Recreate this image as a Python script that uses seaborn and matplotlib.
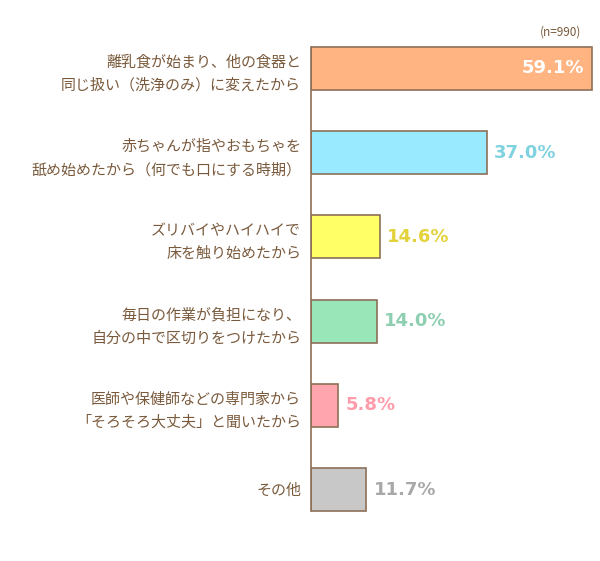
import pandas as pd
import seaborn as sns
import matplotlib.pyplot as plt

# Data
labels = [
    "離乳食が始まり、他の食器と\n同じ扱い（洗浄のみ）に変えたから",
    "赤ちゃんが指やおもちゃを\n舐め始めたから（何でも口にする時期）",
    "ズリバイやハイハイで\n床を触り始めたから",
    "毎日の作業が負担になり、\n自分の中で区切りをつけたから",
    "医師や保健師などの専門家から\n「そろそろ大丈夫」と聞いたから",
    "その他",
]
values = [59.1, 37.0, 14.6, 14.0, 5.8, 11.7]
bar_colors = ["#FFB482", "#99E9FF", "#FFFF66", "#99E6B8", "#FFA5AE", "#C8C8C8"]
text_colors = ["#FFFFFF", "#7FD3E0", "#E3D23A", "#8DCFB0", "#FF9CAA", "#A8A8A8"]

df = pd.DataFrame({"label": labels, "value": values})

sns.set_theme(style="white")
plt.rcParams["font.family"] = ["Noto Sans CJK JP", "DejaVu Sans"]

brown = "#7A5A3C"
edge = "#8C7058"

fig = plt.figure(figsize=(6, 5.61), dpi=100)
ax = fig.add_axes([0.518, 0.052, 0.475, 0.901])

sns.barplot(data=df, x="value", y="label", hue="label", palette=bar_colors,
            saturation=1, legend=False, width=0.51, edgecolor=edge,
            linewidth=1.2, ax=ax)

ax.set_xlim(0, 60)
ax.set_ylim(5.5, -0.5)
ax.set_xlabel("")
ax.set_ylabel("")
ax.set_xticks([])
ax.tick_params(axis="y", length=0, pad=7)
for t in ax.get_yticklabels():
    t.set_color(brown)
    t.set_fontsize(10.8)
    t.set_linespacing(1.75)

for s in ["top", "right", "bottom"]:
    ax.spines[s].set_visible(False)
ax.spines["left"].set_color(edge)
ax.spines["left"].set_linewidth(1.2)
ax.spines["left"].set_bounds(-0.255, 5.255)

for i, v in enumerate(values):
    if i == 0:
        ax.text(v - 1.5, i, f"{v:.1f}%", ha="right", va="center",
                color=text_colors[i], fontsize=13, fontweight="bold",
                family=["DejaVu Sans"])
    else:
        ax.text(v + 1.5, i, f"{v:.1f}%", ha="left", va="center",
                color=text_colors[i], fontsize=13, fontweight="bold",
                family=["DejaVu Sans"])

fig.text(0.968, 0.943, "(n=990)", ha="right", va="center", color=brown, fontsize=8.5)

plt.savefig("out.png", dpi=100)
